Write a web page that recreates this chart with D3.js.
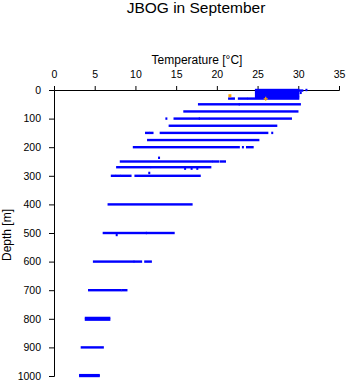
<!DOCTYPE html>
<html>
<head>
<meta charset="utf-8">
<script src="https://cdn.jsdelivr.net/npm/d3@7"></script>
<style>
  html, body { margin: 0; padding: 0; background: #fff; }
  svg { display: block; }
  text { font-family: "Liberation Sans", Arial, Helvetica, sans-serif; fill: #000; }
</style>
</head>
<body>
<svg id="chart" width="348" height="384"></svg>
<script>
// ---- data (temperature in °C, depth in m) ----
const title = "JBOG in September";
const xLabel = "Temperature [°C]";
const yLabel = "Depth [m]";
const xTicks = [0, 5, 10, 15, 20, 25, 30, 35];
const yTicks = [0, 100, 200, 300, 400, 500, 600, 700, 800, 900, 1000];

// depth of each observed row
const rowDepths = [0, 2, 5, 10, 15, 20, 25, 30, 50, 75, 100, 125, 150, 175, 200, 237, 250, 270, 275, 290, 300,
                   400, 500, 507, 600, 700, 797, 803, 900, 997, 1000];
// temperature ranges [min, max] observed at each row depth
const rowRanges = [
  [[24.8, 30.0], [31.0, 31.0]],
  [[24.8, 30.5]],
  [[24.8, 30.0]],
  [[24.8, 30.0], [30.3, 30.3]],
  [[24.8, 30.0]],
  [[24.8, 30.0]],
  [[24.8, 30.0]],
  [[21.5, 22.1], [22.7, 23.7], [23.9, 30.0]],
  [[17.8, 22.7], [22.8, 30.2]],
  [[16.0, 29.9]],
  [[13.8, 13.8], [14.8, 17.8], [17.9, 29.1]],
  [[14.2, 27.3]],
  [[11.3, 11.6], [11.8, 12.1], [13.1, 26.2], [26.8, 26.8]],
  [[11.55, 25.1]],
  [[9.8, 22.7], [23.2, 23.2], [23.7, 24.4]],
  [[12.9, 12.9]],
  [[8.2, 19.4], [19.6, 20.2], [20.5, 21.0]],
  [[7.75, 11.8], [12.0, 19.2]],
  [[16.1, 16.1], [16.9, 16.9], [17.6, 17.6]],
  [[11.7, 11.7]],
  [[7.1, 7.5], [7.7, 8.1], [8.3, 9.4], [10.0, 17.9]],
  [[6.7, 16.9]],
  [[6.1, 11.3], [11.4, 14.7]],
  [[7.7, 7.7]],
  [[4.9, 9.75], [9.9, 10.7], [11.2, 11.9]],
  [[4.3, 8.2], [8.4, 8.9]],
  [[3.9, 6.8]],
  [[3.9, 6.8]],
  [[3.4, 6.0]],
  [[3.2, 5.5]],
  [[3.2, 5.5]]
];
// highlighted (orange) observations
const orangeTemps = [21.6, 26.0];
const orangeDepths = [20, 31];
const orangeShapes = ["square", "plus"];

// ---- drawing ----
const svg = d3.select("#chart");
const x = d3.scaleLinear().domain([0, 35]).range([54, 339]);
const y = d3.scaleLinear().domain([0, 1000]).range([90, 376]);

svg.append("text").attr("x", 196).attr("y", 13)
  .attr("text-anchor", "middle").style("font-size", "15.5px").text(title);

svg.append("text").attr("x", 197).attr("y", 64)
  .attr("text-anchor", "middle").style("font-size", "12px").text(xLabel);

svg.append("text")
  .attr("transform", "translate(11," + 235 + ") rotate(-90)")
  .attr("text-anchor", "middle").style("font-size", "12px").text(yLabel);

const xAxis = svg.append("g").attr("transform", "translate(0,90)")
  .call(d3.axisTop(x).tickValues(xTicks).tickSize(4).tickPadding(8).tickFormat(d3.format("d")));
const yAxis = svg.append("g").attr("transform", "translate(54,0)")
  .call(d3.axisLeft(y).tickValues(yTicks).tickSize(5).tickPadding(8).tickFormat(d3.format("d")));
[xAxis, yAxis].forEach(g => {
  g.attr("font-family", null).attr("font-size", null);
  g.selectAll("text").style("font-size", "10.5px");
  g.selectAll("path, line").attr("stroke", "#000");
});

const rows = rowDepths.map((d, i) => ({ depth: d, ranges: rowRanges[i] }));
const segs = rows.flatMap(r => r.ranges.map(rg => ({ depth: r.depth, t0: rg[0], t1: rg[1] })));

svg.append("g").selectAll("rect").data(segs).join("rect")
  .attr("x", d => x(d.t0) - 1)
  .attr("width", d => x(d.t1) - x(d.t0) + 2)
  .attr("y", d => y(d.depth) - 1.2)
  .attr("height", 2.4)
  .attr("fill", "#0000ff");

const orange = orangeTemps.map((t, i) => ({ t, depth: orangeDepths[i], shape: orangeShapes[i] }));
const og = svg.append("g");
orange.forEach(o => {
  if (o.shape === "square") {
    og.append("rect").attr("x", x(o.t) - 1.5).attr("y", y(o.depth) - 1.5)
      .attr("width", 3).attr("height", 3).attr("fill", "#ffa500");
  } else {
    og.append("path")
      .attr("d", `M${x(o.t) - 2},${y(o.depth)}h4M${x(o.t)},${y(o.depth) - 2}v4`)
      .attr("stroke", "#ffa500").attr("stroke-width", 1.2).attr("fill", "none");
  }
});
</script>
</body>
</html>
